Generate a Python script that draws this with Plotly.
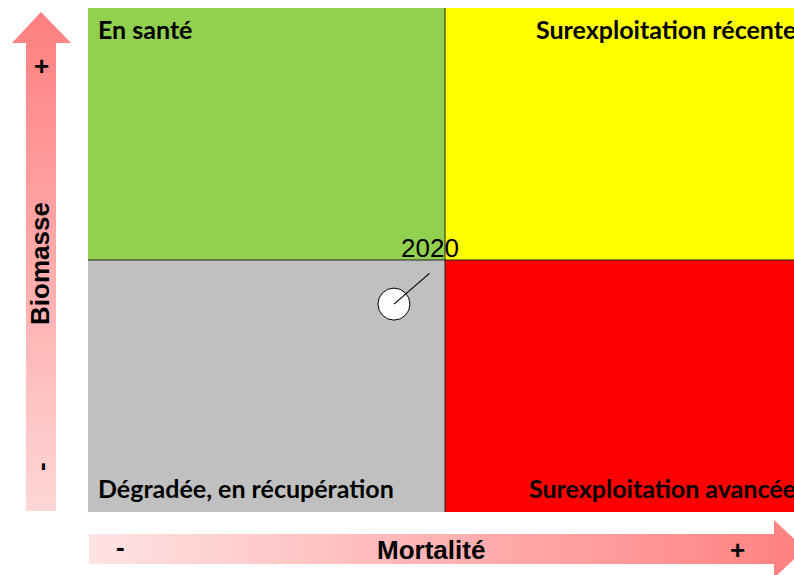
import plotly.graph_objects as go

# ---- data ----
years = ["2020"]
mortality = [0.857]   # F / F_ref (1 = limit)
biomass = [0.825]     # B / B_ref (1 = limit)

quadrant_labels = ["En santé", "Surexploitation récente",
                   "Dégradée, en récupération", "Surexploitation avancée"]
axis_titles = ["Mortalité", "Biomasse"]

W, H = 794, 575
PL, PT, PB = 88, 8, 512  # plot area pixel edges (left, top, bottom)

def px(x):
    return x / W

def py(y):
    return 1 - y / H

def up(y):
    return H - y

fig = go.Figure()

# quadrant backgrounds
quads = [
    (0, 1, 1, 2, "#92D050"),
    (1, 2.2, 1, 2, "#FFFF00"),
    (0, 1, 0, 1, "#C0C0C0"),
    (1, 2.2, 0, 1, "#FF0000"),
]
for x0, x1, y0, y1, c in quads:
    fig.add_shape(type="rect", xref="x", yref="y", x0=x0, x1=x1, y0=y0, y1=y1,
                  fillcolor=c, line_width=0, layer="below")
fig.add_shape(type="line", xref="x", yref="y", x0=1, x1=1, y0=0, y1=2,
              line=dict(color="#222", width=1), layer="below")
fig.add_shape(type="line", xref="x", yref="y", x0=0, x1=2.2, y0=1, y1=1,
              line=dict(color="#222", width=1), layer="below")

# data point
fig.add_trace(go.Scatter(x=mortality, y=biomass, mode="markers",
                         marker=dict(size=32, color="white",
                                     line=dict(color="black", width=1)),
                         showlegend=False, hoverinfo="skip",
                         xaxis="x", yaxis="y"))
for xv, yv, lab in zip(mortality, biomass, years):
    fig.add_annotation(x=xv, y=yv, xref="x", yref="y", text="",
                       showarrow=True, arrowhead=0, arrowwidth=1.2,
                       arrowcolor="black", ax=37, ay=-32, standoff=0)
    fig.add_annotation(x=xv, y=yv, xref="x", yref="y", text=lab,
                       showarrow=False, xshift=36, yshift=56,
                       xanchor="center", yanchor="middle",
                       font=dict(family="Liberation Sans, Arial", size=26, color="black"))

# arrows (pixel overlay, y measured upward)
vx = [26, 26, 12, 41, 71, 56, 56, 26]
vy = [511, 43, 43, 12, 43, 43, 511, 511]
fig.add_trace(go.Scatter(x=vx, y=[up(v) for v in vy], mode="lines",
                         fill="toself", line=dict(width=0),
                         fillgradient=dict(type="vertical",
                                           colorscale=[[0, "#FFD6D6"], [1, "#FF7F7F"]]),
                         xaxis="x2", yaxis="y2", showlegend=False, hoverinfo="skip"))
hx = [89, 774, 774, 805, 774, 774, 89, 89]
hy = [534, 534, 520, 549, 578, 564, 564, 534]
fig.add_trace(go.Scatter(x=hx, y=[up(v) for v in hy], mode="lines",
                         fill="toself", line=dict(width=0),
                         fillgradient=dict(type="horizontal",
                                           colorscale=[[0, "#FFE3E3"], [1, "#FF8080"]]),
                         xaxis="x2", yaxis="y2", showlegend=False, hoverinfo="skip"))

qfont = dict(family="Lato, Carlito, Calibri, sans-serif", size=25, color="black")
qpos = [(96, 29), (534, 29), (96, 488), (527, 488)]
for lab, (x, y) in zip(quadrant_labels, qpos):
    fig.add_annotation(x=px(x), y=py(y), xref="paper", yref="paper", text=f"<b>{lab}</b>",
                       showarrow=False, xanchor="left", yanchor="middle", font=qfont)

def label(x, y, text, size=26, angle=0):
    fig.add_annotation(x=px(x), y=py(y), xref="paper", yref="paper", text=text,
                       showarrow=False, xanchor="center", yanchor="middle",
                       textangle=angle,
                       font=dict(family="Liberation Sans, Arial", size=size, color="black"))

label(431, 550, f"<b>{axis_titles[0]}</b>")
label(40, 264, f"<b>{axis_titles[1]}</b>", angle=-90)
label(41, 66, "<b>+</b>")
label(41, 467, "<b>-</b>", angle=-90)
label(120, 547, "<b>-</b>")
label(737, 550, "<b>+</b>")

fig.update_layout(
    width=W, height=H, margin=dict(l=0, r=0, t=0, b=0),
    paper_bgcolor="white", plot_bgcolor="rgba(0,0,0,0)",
    xaxis=dict(domain=[PL / W, 1], range=[0, (W - PL) / 357.0],
               visible=False, fixedrange=True),
    yaxis=dict(domain=[1 - PB / H, 1 - PT / H], range=[0, 2],
               visible=False, fixedrange=True),
    xaxis2=dict(domain=[0, 1], range=[0, W], visible=False, anchor="y2"),
    yaxis2=dict(domain=[0, 1], range=[0, H], visible=False, anchor="x2"),
    showlegend=False,
)
fig.write_html("out.html", config=dict(displayModeBar=False),
               post_script="document.body.style.margin='0';document.body.style.overflow='hidden';")
